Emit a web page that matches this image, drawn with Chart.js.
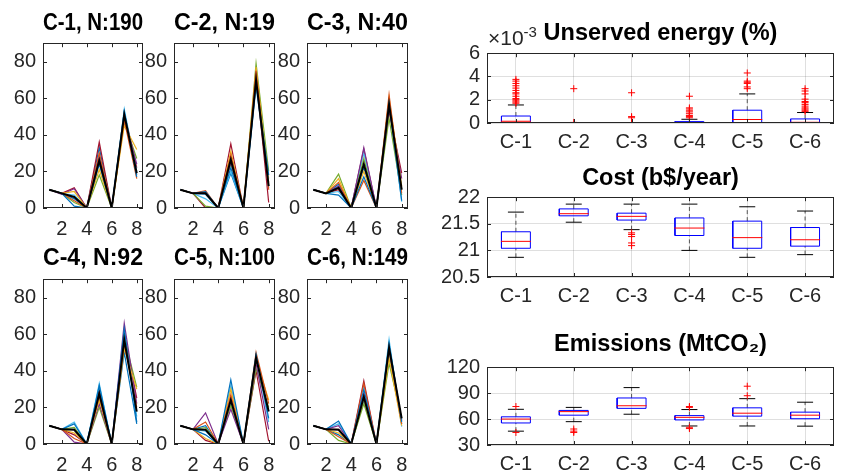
<!DOCTYPE html>
<html>
<head>
<meta charset="utf-8">
<script src="https://cdn.jsdelivr.net/npm/chart.js@4.4.0/dist/chart.umd.min.js"></script>
<style>
  html, body { margin: 0; padding: 0; width: 842px; height: 475px; overflow: hidden; background: #fff; position: relative; }
  canvas { position: absolute; }
</style>
</head>
<body>
<canvas id="c1" width="143" height="240" style="left:0px;top:0px"></canvas>
<canvas id="c2" width="144" height="240" style="left:131px;top:0px"></canvas>
<canvas id="c3" width="144" height="240" style="left:264px;top:0px"></canvas>
<canvas id="c4" width="143" height="236" style="left:0px;top:240px"></canvas>
<canvas id="c5" width="144" height="236" style="left:131px;top:240px"></canvas>
<canvas id="c6" width="144" height="236" style="left:264px;top:240px"></canvas>
<canvas id="unserved" width="423" height="155" style="left:427px;top:0px"></canvas>
<canvas id="cost" width="423" height="159" style="left:427px;top:150px"></canvas>
<canvas id="emis" width="423" height="157" style="left:427px;top:320px"></canvas>

<script>
// ---- data ----
const steps = [1, 2, 3, 4, 5, 6, 7, 8];
const stepTicks = [2, 4, 6, 8];
const pctTicks = [0, 20, 40, 60, 80];

// a few representative lines per cluster, plus the black mean line
const c1Lines = [
  [10, 8, 1, 0, 24, 0, 53, 17],
  [10, 8, 4, 0, 30, 0, 48, 16],
  [10, 8, 9, 0, 21, 0, 45, 32],
  [10, 7.5, 10.5, 0, 28, 0, 50, 24],
  [10, 8, 3, 0, 18, 0, 47, 27],
  [10, 7.8, 7, 0, 29, 0, 54, 20],
  [10, 8, 11, 0, 36, 0, 52, 22],
  [10, 8.2, 5, 0, 33, 0, 51, 18]
];
const c1Mean = [10, 8, 6, 0, 26, 0, 51, 19];

const c2Lines = [
  [10, 8, 9, 0, 22, 0, 68, 18],
  [10, 8, 9.5, 0, 29, 0, 75, 10],
  [10, 8, 8, 0, 31, 0, 77, 14],
  [10, 8, 8.5, 0, 25, 0, 70, 12],
  [10, 8, 1, 0, 24, 0, 79, 20],
  [10, 8, 5, 0, 20, 0, 66, 16],
  [10, 8, 0, 0, 35, 0, 72, 3],
  [10, 8, 7.5, 0, 19, 0, 69, 11]
];
const c2Mean = [10, 8, 8, 0, 26.5, 0, 70, 12];

const c3Lines = [
  [10, 8, 7, 0, 17, 0, 57, 4],
  [10, 8, 14, 0, 15, 0, 62, 8],
  [10, 8, 16, 0, 20, 0, 60, 12],
  [10, 8, 12, 0, 33, 0, 55, 16],
  [10, 8, 18.5, 0, 27, 0, 49, 7],
  [10, 8, 9, 0, 30, 0, 58, 3.5],
  [10, 8, 10, 0, 32, 0, 53, 19],
  [10, 8, 13, 0, 22, 0, 59, 10]
];
const c3Mean = [10, 8, 11, 0, 24, 0, 56.5, 10];

const c4Lines = [
  [10, 8, 11, 0, 32, 0, 63, 12],
  [10, 8, 3, 0, 26, 0, 55, 20],
  [10, 8, 6, 0, 24, 0, 52, 30],
  [10, 8, 1, 0, 22, 0, 66, 22],
  [10, 8, 9, 0, 20, 0, 58, 31],
  [10, 8, 12, 0, 33, 0, 62, 15],
  [10, 8, 5, 0, 28, 0, 60, 25],
  [10, 8, 8, 0, 30, 0, 50, 11]
];
const c4Mean = [10, 8, 7.8, 0, 27.5, 0, 57, 17.7];

const c5Lines = [
  [10, 8, 5, 0, 35, 0, 49, 14],
  [10, 8, 12, 0, 27, 0, 50, 22],
  [10, 8, 3, 0, 30, 0, 46, 24],
  [10, 8, 17, 0, 19, 0, 44, 8],
  [10, 8, 9, 0, 21, 0, 41, 20],
  [10, 8, 7, 0, 32, 0, 48, 12],
  [10, 8, 2, 0, 25, 0, 40, 1.5],
  [10, 8, 10, 0, 23, 0, 47, 18]
];
const c5Mean = [10, 8, 7.8, 0, 24, 0, 47, 17.7];

const c6Lines = [
  [10, 8, 12.5, 0, 30, 0, 55, 12],
  [10, 8, 4, 0, 33, 0, 53, 11],
  [10, 8, 6, 0, 25, 0, 47, 10],
  [10, 8, 10, 0, 28, 0, 51, 13],
  [10, 8, 2, 0, 22, 0, 44, 14],
  [10, 8, 11, 0, 27, 0, 57, 9.5],
  [10, 8, 8, 0, 34.5, 0, 54, 12.5],
  [10, 8, 5, 0, 24, 0, 50, 11]
];
const c6Mean = [10, 8, 7.8, 0, 25.8, 0, 52.5, 14];

const groups = ['C-1', 'C-2', 'C-3', 'C-4', 'C-5', 'C-6'];
const groupTicks = [1, 2, 3, 4, 5, 6];

// unserved energy, x 1e-3 %
const ueLo  = [0, 0, 0, 0, 0, 0];
const ueQ1  = [0, 0, 0, 0, 0, 0];
const ueMed = [0.15, 0, 0, 0.02, 0.3, 0.06];
const ueQ3  = [0.6, 0, 0, 0.12, 1.1, 0.35];
const ueHi  = [1.55, 0, 0, 0.32, 2.5, 0.9];
const ueOut = [
  [1.7, 1.8, 1.9, 2.0, 2.1, 2.3, 2.5, 2.6, 2.8, 3.0, 3.2, 3.4, 3.6, 3.75],
  [0.05, 2.95],
  [-0.05, 0.45, 0.55, 2.6],
  [0.45, 0.55, 0.65, 0.8, 0.95, 1.05, 1.2, 1.3, 2.3],
  [2.95, 3.1, 3.4, 3.5, 3.6, 4.3],
  [1.0, 1.1, 1.2, 1.3, 1.45, 1.6, 1.75, 1.85, 2.05, 2.5, 2.75, 2.95]
];
const ueTicks = [0, 2, 4, 6];

// cost, b$/year
const costLo  = [20.87, 21.53, 21.39, 21.0, 20.87, 20.92];
const costQ1  = [21.04, 21.65, 21.57, 21.28, 21.04, 21.08];
const costMed = [21.17, 21.69, 21.64, 21.42, 21.24, 21.2];
const costQ3  = [21.35, 21.78, 21.70, 21.61, 21.55, 21.43];
const costHi  = [21.72, 21.87, 21.87, 21.87, 21.82, 21.74];
const costOut = [[], [], [21.33, 21.30, 21.26, 21.14, 21.09], [], [], []];
const costTicks = [20.5, 21, 21.5, 22];

// emissions, MtCO2
const emLo  = [46, 57, 65.6, 52, 52, 51.8];
const emQ1  = [55.5, 64.5, 72.4, 59, 63.4, 60.4];
const emMed = [60, 68.6, 75.4, 62, 66.8, 64.5];
const emQ3  = [62.6, 70, 84.4, 64, 73, 68];
const emHi  = [71.3, 73.5, 96.4, 71, 83.6, 79.5];
const emOut = [[74.5, 44.5], [48.5, 46, 44.5], [], [74.5, 73.5, 50.5, 49], [98, 87], []];
const emTicks = [30, 60, 90, 120];

// ---- style ----
const colors = ['#0072BD', '#D95319', '#EDB120', '#7E2F8E', '#77AC30', '#4DBEEE', '#A2142F'];
const axisColor = '#262626';
const titleFont = { size: 23.5, weight: 'bold' };
Chart.defaults.font.family = '"Liberation Sans", Arial, sans-serif';
Chart.defaults.color = axisColor;
Chart.defaults.animation = false;

// matlab style box with inward ticks
const frame = {
  id: 'frame',
  afterDraw(chart) {
    const { ctx, chartArea: a, scales: { x, y } } = chart;
    ctx.save();
    ctx.strokeStyle = axisColor;
    ctx.lineWidth = 1;
    ctx.strokeRect(Math.round(a.left) + 0.5, Math.round(a.top) + 0.5, Math.round(a.right - a.left) - 1, Math.round(a.bottom - a.top) - 1);
    ctx.beginPath();
    x.ticks.forEach(t => {
      const px = Math.round(x.getPixelForValue(t.value)) + 0.5;
      ctx.moveTo(px, a.bottom); ctx.lineTo(px, a.bottom - 4);
      ctx.moveTo(px, a.top); ctx.lineTo(px, a.top + 4);
    });
    y.ticks.forEach(t => {
      const py = Math.round(y.getPixelForValue(t.value)) + 0.5;
      ctx.moveTo(a.left, py); ctx.lineTo(a.left + 4, py);
      ctx.moveTo(a.right, py); ctx.lineTo(a.right - 4, py);
    });
    ctx.stroke();
    ctx.restore();
  }
};

function setTicks(vals) {
  return s => { s.ticks = vals.map(v => ({ value: v })); };
}
function fixSize(prop, size) {
  return s => {
    s[prop] = size;
    s.paddingLeft = 0; s.paddingRight = 0; s.paddingTop = 0; s.paddingBottom = 0;
  };
}

function lineChart(id, title, lines, mean, pad) {
  const sets = [{ data: mean, borderColor: '#000', borderWidth: 2 }];
  lines.forEach((d, i) => sets.push({ data: d, borderColor: colors[i % colors.length], borderWidth: 1.2 }));
  new Chart(document.getElementById(id), {
    type: 'line',
    data: { labels: steps, datasets: sets },
    plugins: [frame],
    options: {
      responsive: false,
      elements: { point: { radius: 0 }, line: { tension: 0 } },
      layout: { padding: 0 },
      plugins: {
        legend: { display: false },
        tooltip: { enabled: false },
        title: { display: true, text: title, fullSize: false, color: '#000', font: titleFont, padding: pad }
      },
      scales: {
        x: {
          type: 'linear', min: 0.5, max: 8.5,
          afterBuildTicks: setTicks(stepTicks),
          afterFit: fixSize('height', 32),
          grid: { display: false, drawTicks: false }, border: { display: false },
          ticks: { font: { size: 20 }, padding: 9, maxRotation: 0, autoSkip: false }
        },
        y: {
          min: 0, max: 90,
          afterBuildTicks: setTicks(pctTicks),
          afterFit: fixSize('width', 43),
          grid: { display: false, drawTicks: false }, border: { display: false },
          ticks: { font: { size: 20 }, padding: 7, autoSkip: false }
        }
      }
    }
  });
}

lineChart('c1', 'C-1, N:190', c1Lines, c1Mean, { top: 9, bottom: 6 });
lineChart('c2', 'C-2, N:19', c2Lines, c2Mean, { top: 9, bottom: 6 });
lineChart('c3', 'C-3, N:40', c3Lines, c3Mean, { top: 9, bottom: 6 });
lineChart('c4', 'C-4, N:92', c4Lines, c4Mean, { top: 4, bottom: 7 });
lineChart('c5', 'C-5, N:100', c5Lines, c5Mean, { top: 4, bottom: 7 });
lineChart('c6', 'C-6, N:149', c6Lines, c6Mean, { top: 4, bottom: 7 });

function boxDatasets(lo, q1, med, q3, hi, out) {
  const box = [], whisk = [], caps = [], meds = [], pts = [];
  groups.forEach((g, i) => {
    const c = groupTicks[i];
    box.push({ x: c - 0.25, y: q1[i] }, { x: c + 0.25, y: q1[i] }, { x: c + 0.25, y: q3[i] },
             { x: c - 0.25, y: q3[i] }, { x: c - 0.25, y: q1[i] }, { x: c, y: null });
    whisk.push({ x: c, y: q3[i] }, { x: c, y: hi[i] }, { x: c, y: null },
               { x: c, y: lo[i] }, { x: c, y: q1[i] }, { x: c, y: null });
    caps.push({ x: c, y: lo[i] }, { x: c, y: hi[i] });
    meds.push({ x: c, y: med[i] });
    out[i].forEach(v => pts.push({ x: c, y: v }));
  });
  return [
    { data: pts, pointStyle: 'cross', pointRadius: 3.5, borderColor: '#FF0000', borderWidth: 1 },
    { data: meds, pointStyle: 'line', pointRadius: 15, borderColor: '#FF0000', borderWidth: 1 },
    { data: box, showLine: true, spanGaps: false, borderColor: '#0000FF', borderWidth: 1, pointRadius: 0 },
    { data: caps, pointStyle: 'line', pointRadius: 8, borderColor: '#000', borderWidth: 1 },
    { data: whisk, showLine: true, spanGaps: false, borderColor: '#555', borderWidth: 1, borderDash: [4, 3], pointRadius: 0 }
  ];
}

function boxChart(id, title, sets, yMin, yMax, yTicks, pad, extra) {
  new Chart(document.getElementById(id), {
    type: 'scatter',
    data: { datasets: sets },
    plugins: extra ? [frame, extra] : [frame],
    options: {
      responsive: false,
      layout: { padding: 0 },
      plugins: {
        legend: { display: false },
        tooltip: { enabled: false },
        title: { display: true, text: title, fullSize: false, color: '#000', font: titleFont, padding: pad }
      },
      scales: {
        x: {
          type: 'linear', min: 0.5, max: 6.5,
          afterBuildTicks: setTicks(groupTicks),
          afterFit: fixSize('height', 32),
          grid: { color: 'rgba(38,38,38,0.15)', drawTicks: false }, border: { display: false },
          ticks: { font: { size: 20 }, padding: 7, maxRotation: 0, autoSkip: false, callback: v => groups[v - 1] }
        },
        y: {
          min: yMin, max: yMax,
          afterBuildTicks: setTicks(yTicks),
          afterFit: fixSize('width', 60),
          grid: { color: 'rgba(38,38,38,0.15)', drawTicks: false }, border: { display: false },
          ticks: { font: { size: 20 }, padding: 7, autoSkip: false, callback: v => String(v) }
        }
      }
    }
  });
}

// x10^-3 exponent label like matlab
const exponent = {
  id: 'exponent',
  afterDraw(chart) {
    const { ctx, chartArea: a } = chart;
    ctx.save();
    ctx.fillStyle = axisColor;
    ctx.textBaseline = 'alphabetic';
    ctx.textAlign = 'left';
    ctx.font = '21px "Liberation Sans", Arial, sans-serif';
    const base = '\u00d710';
    ctx.fillText(base, a.left + 1, a.top - 8);
    const w = ctx.measureText(base).width;
    ctx.font = '15px "Liberation Sans", Arial, sans-serif';
    ctx.fillText('-3', a.left + 1 + w, a.top - 16);
    ctx.restore();
  }
};

boxChart('unserved', 'Unserved energy (%)', boxDatasets(ueLo, ueQ1, ueMed, ueQ3, ueHi, ueOut), 0, 6, ueTicks, { top: 19, bottom: 6 }, exponent);
boxChart('cost', 'Cost (b$/year)', boxDatasets(costLo, costQ1, costMed, costQ3, costHi, costOut), 20.5, 22, costTicks, { top: 14, bottom: 5 });
boxChart('emis', 'Emissions (MtCO\u2082)', boxDatasets(emLo, emQ1, emMed, emQ3, emHi, emOut), 30, 120, emTicks, { top: 10, bottom: 9 });
</script>
</body>
</html>
